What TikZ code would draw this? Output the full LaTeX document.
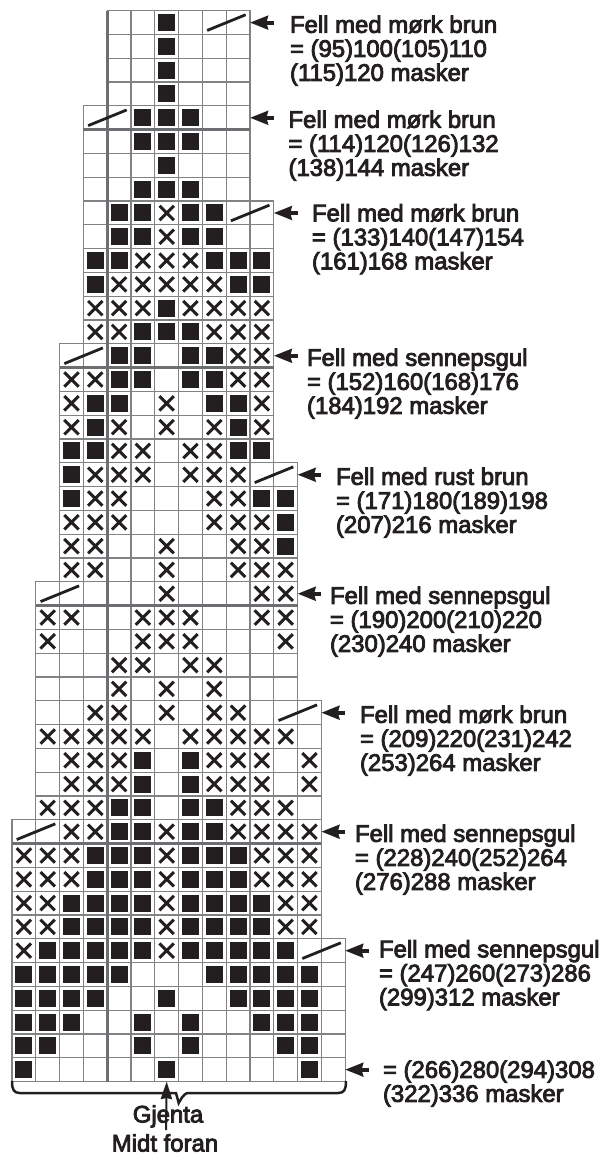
\documentclass[tikz,border=0pt]{standalone}
\usepackage{fontspec}
\usepackage{tikz}
\usetikzlibrary{arrows.meta,shapes.misc}
\newfontfamily\labelfont{Liberation Sans}[FakeBold=3.5]
\definecolor{ink}{HTML}{231F20}
\definecolor{rule}{HTML}{808285}
\definecolor{rulethick}{HTML}{6D6E71}

\begin{document}
\begin{tikzpicture}[x=0.025cm, y=-0.025cm,
	every node/.style={font=\labelfont\fontsize{17}{17.07}\selectfont, text=ink},
	sq/.style={fill=ink, minimum size=4.25mm, inner sep=0pt, outer sep=0pt},
	xc/.style={draw=ink, cross out, line width=0.75mm, minimum size=3.6mm, inner sep=0pt, outer sep=0pt},
	cellbox/.style={draw=rule, line width=0.3mm},
	fold/.style={draw=rulethick, line width=0.7mm},
	slash/.style={draw=ink, line width=0.7mm},
	pointer/.style={draw=ink, line width=0.95mm, -{Stealth[length=4.5mm, width=3.4mm, inset=0.4mm]}},
	upper/.style={draw=ink, line width=0.5mm, -{Stealth[length=4.4mm, width=2.8mm, inset=0.3mm]}},
	lab/.style={anchor=north west, inner sep=0pt, outer sep=0pt, align=left},
	foot/.style={anchor=base, inner sep=0pt, outer sep=0pt}]
	\useasboundingbox (0,0) rectangle (601,1153);
	\begin{scope}[shift={(12,10.7)}, x=0.59475cm, y=-0.59475cm]
		\foreach \xa/\xb/\ya/\yb in {4/9/0/3, 3/9/4/7, 3/10/8/13, 2/10/14/18, 2/11/19/23, 1/11/24/28, 1/12/29/33, 0/12/34/38, 0/13/39/44} {
			\foreach \c in {\xa,...,\xb} {\foreach \r in {\ya,...,\yb} {\draw[cellbox] (\c,\r) rectangle ++(1,1);}}
		}
		\draw[fold] (4,0) -- (4,45);
		\foreach \xa/\xb/\r in {3/10/5, 2/11/15, 1/12/25, 0/13/35} {\draw[fold] (\xa,\r) -- (\xb,\r);}
		\foreach \r/\cs in {0/{6}, 1/{6}, 2/{6}, 3/{6}, 4/{5,6,7}, 5/{5,6,7}, 6/{6}, 7/{5,6,7}, 8/{4,5,7,8}, 9/{4,5,7,8}, 10/{3,4,8,9,10}, 11/{3,9,10}, 12/{6}, 13/{5,6,7}, 14/{4,5,7,8}, 15/{4,5,7,8}, 16/{3,4,8,9}, 17/{3,9}, 18/{2,3,9,10}, 19/{2}, 20/{2,10,11}, 21/{11}, 22/{11}, 31/{5,7}, 32/{5,7}, 33/{4,5,7,8}, 34/{4,5,7,8}, 35/{3,4,5,7,8,9}, 36/{3,4,5,7,8,9}, 37/{2,3,4,5,7,8,9,10}, 38/{2,3,4,5,7,8,9,10}, 39/{1,2,3,4,5,7,8,9,10,11}, 40/{0,1,2,3,4,8,9,10,11,12}, 41/{0,1,2,3,6,9,10,11,12}, 42/{0,1,2,5,7,10,11,12}, 43/{0,1,5,7,11,12}, 44/{0,6,12}} {
			\foreach \c in \cs {\node[sq] (b-\c-\r) at (\c+0.5,\r+0.5) {};}
		}
		\foreach \r/\cs in {8/{6}, 9/{6}, 10/{5,6,7}, 11/{4,5,6,7,8}, 12/{3,4,5,7,8,9,10}, 13/{3,4,8,9,10}, 14/{9,10}, 15/{2,3,9,10}, 16/{2,6,10}, 17/{2,4,6,8,10}, 18/{4,5,7,8}, 19/{3,4,5,7,8,9}, 20/{3,4,8,9}, 21/{2,3,4,8,9,10}, 22/{2,3,6,9,10}, 23/{2,3,6,9,10,11}, 24/{6,10,11}, 25/{1,2,5,6,7,10,11}, 26/{1,5,6,7,11}, 27/{4,5,7,8}, 28/{4,6,8}, 29/{3,4,6,8,9}, 30/{1,2,3,4,5,7,8,9,10,11}, 31/{2,3,4,8,9,10,12}, 32/{2,3,4,8,9,10,12}, 33/{1,2,3,9,10,11}, 34/{2,3,6,9,10,11,12}, 35/{0,1,2,6,10,11,12}, 36/{0,1,2,6,10,11,12}, 37/{0,1,6,11,12}, 38/{0,1,6,11,12}, 39/{0,6}} {
			\foreach \c in \cs {\node[xc] (x-\c-\r) at (\c+0.5,\r+0.5) {};}
		}
		\foreach \c/\r in {8/0, 3/4, 9/8, 2/14, 10/19, 1/24, 11/29, 0/34, 12/39} {
			\draw[slash] (\c+0.2,\r+0.83) -- (\c+1.82,\r+0.17);
		}
		\foreach \n/\c/\r in {a/10/0, b/10/4, c/11/8, d/11/14, e/12/19, f/12/24, g/13/29, h/13/34, i/14/39, j/14/44} {
			\coordinate (tip\n) at (\c,\r+0.5);
			\coordinate (tail\n) at (\c+1,\r+0.5);
			\draw[pointer] (tail\n) -- (tip\n);
		}
		\coordinate (midtip) at (6.5,45);
	\end{scope}
	\node[lab] (laba) at (290,15.5) {Fell med mørk brun\\= (95)100(105)110\\(115)120 masker};
	\node[lab] (labb) at (288.5,110.5) {Fell med mørk brun\\= (114)120(126)132\\(138)144 masker};
	\node[lab] (labc) at (312,204) {Fell med mørk brun\\= (133)140(147)154\\(161)168 masker};
	\node[lab] (labd) at (307,348.5) {Fell med sennepsgul\\= (152)160(168)176\\(184)192 masker};
	\node[lab] (labe) at (336,467.5) {Fell med rust brun\\= (171)180(189)198\\(207)216 masker};
	\node[lab] (labf) at (330,586.5) {Fell med sennepsgul\\= (190)200(210)220\\(230)240 masker};
	\node[lab] (labg) at (360,705.5) {Fell med mørk brun\\= (209)220(231)242\\(253)264 masker};
	\node[lab] (labh) at (355,824.5) {Fell med sennepsgul\\= (228)240(252)264\\(276)288 masker};
	\node[lab] (labi) at (379,940) {Fell med sennepsgul\\= (247)260(273)286\\(299)312 masker};
	\node[lab] (labj) at (383,1060.5) {= (266)280(294)308\\(322)336 masker};
	\node[foot] (gjenta) at (168,1122.5) {Gjenta};
	\node[foot] (midt) at (165,1151.5) {Midt foran};
	\coordinate (midtail) at (166,1130);
	\draw[upper] (midtail) -- (midtip);
	\draw[ink, line width=0.62mm] (12,1081) .. controls (12,1090) and (14,1093) .. (20,1093) -- (172,1093) -- (176,1093) .. controls (177,1097) and (178,1100) .. (178.7,1103) .. controls (181,1099) and (183,1095) .. (187,1093) -- (338,1093) .. controls (344,1093) and (346,1090) .. (346,1081);
\end{tikzpicture}
\end{document}
